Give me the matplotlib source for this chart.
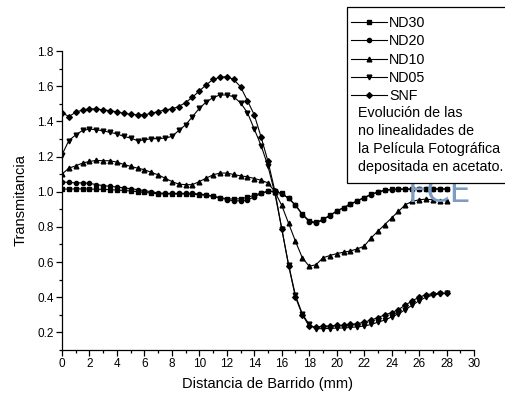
import numpy as np
import matplotlib
matplotlib.use("Agg")
import matplotlib.pyplot as plt
from matplotlib.lines import Line2D
from matplotlib.patches import Rectangle
from matplotlib.ticker import MultipleLocator

plt.rcParams['font.family'] = ['Liberation Sans', 'DejaVu Sans']

# scan positions (mm), one sample every 0.5 mm
distancia = np.arange(0, 28.5, 0.5)

nd30 = [1.015, 1.015, 1.016, 1.016, 1.015, 1.014, 1.013, 1.012, 1.009, 1.007,
        1.004, 1.000, 0.996, 0.992, 0.988, 0.987, 0.987, 0.987, 0.987, 0.986,
        0.983, 0.979, 0.973, 0.966, 0.960, 0.958, 0.960, 0.968, 0.980, 0.993,
        1.002, 1.002, 0.990, 0.963, 0.925, 0.872, 0.835, 0.825, 0.843, 0.866,
        0.890, 0.910, 0.930, 0.949, 0.967, 0.985, 0.999, 1.009, 1.013, 1.015,
        1.015, 1.015, 1.015, 1.015, 1.015, 1.015, 1.015]

nd20 = [1.055, 1.053, 1.050, 1.050, 1.048, 1.040, 1.035, 1.030, 1.027, 1.022,
        1.017, 1.012, 1.006, 1.000, 0.993, 0.990, 0.990, 0.990, 0.990, 0.990,
        0.987, 0.982, 0.975, 0.965, 0.955, 0.948, 0.948, 0.953, 0.970, 0.990,
        1.003, 1.000, 0.988, 0.962, 0.922, 0.870, 0.830, 0.820, 0.840, 0.863,
        0.888, 0.908, 0.928, 0.947, 0.965, 0.983, 0.997, 1.007, 1.012, 1.014,
        1.015, 1.015, 1.016, 1.016, 1.016, 1.016, 1.016]

nd10 = [1.100, 1.134, 1.147, 1.163, 1.172, 1.178, 1.176, 1.176, 1.168, 1.155,
        1.144, 1.134, 1.125, 1.110, 1.096, 1.077, 1.058, 1.043, 1.040, 1.040,
        1.058, 1.077, 1.096, 1.106, 1.106, 1.098, 1.090, 1.085, 1.075, 1.065,
        1.050, 1.000, 0.922, 0.820, 0.718, 0.624, 0.576, 0.585, 0.624, 0.637,
        0.648, 0.656, 0.663, 0.675, 0.690, 0.737, 0.775, 0.813, 0.851, 0.888,
        0.926, 0.945, 0.954, 0.958, 0.954, 0.950, 0.950]

nd05 = [1.210, 1.291, 1.323, 1.348, 1.356, 1.352, 1.346, 1.337, 1.329, 1.314,
        1.305, 1.290, 1.295, 1.301, 1.302, 1.305, 1.314, 1.348, 1.380, 1.427,
        1.474, 1.510, 1.535, 1.550, 1.550, 1.540, 1.505, 1.450, 1.356, 1.262,
        1.145, 0.990, 0.790, 0.585, 0.410, 0.305, 0.245, 0.220, 0.222, 0.222,
        0.225, 0.225, 0.228, 0.232, 0.236, 0.245, 0.258, 0.270, 0.288, 0.305,
        0.330, 0.355, 0.380, 0.400, 0.412, 0.420, 0.424]

snf = [1.450, 1.427, 1.452, 1.465, 1.471, 1.471, 1.465, 1.461, 1.454, 1.446,
       1.440, 1.437, 1.437, 1.446, 1.456, 1.465, 1.471, 1.484, 1.507, 1.537,
       1.573, 1.607, 1.639, 1.650, 1.655, 1.638, 1.597, 1.518, 1.437, 1.310,
       1.172, 1.005, 0.790, 0.580, 0.400, 0.300, 0.236, 0.230, 0.236, 0.236,
       0.240, 0.240, 0.245, 0.250, 0.258, 0.270, 0.284, 0.300, 0.312, 0.330,
       0.355, 0.380, 0.400, 0.414, 0.420, 0.422, 0.422]

series = [("ND30", nd30, "s", 2.8),
          ("ND20", nd20, "o", 3.0),
          ("ND10", nd10, "^", 3.4),
          ("ND05", nd05, "v", 3.4),
          ("SNF", snf, "D", 2.9)]

nota = ["Evolución de las", "no linealidades de",
        "la Película Fotográfica", "depositada en acetato."]

W, H = 505, 400
fig = plt.figure(figsize=(W / 100, H / 100), dpi=100)
ax = fig.add_axes([62 / W, 1 - 350 / H, (474 - 62) / W, (350 - 51) / H])

# faint logo behind the legend box
fig.text(440 / W, 1 - 192 / H, "FCE", ha='center', va='center', fontsize=24,
         color='#7d9cc2', family='DejaVu Sans', zorder=0)

for name, vals, mk, ms in series:
    ax.plot(distancia, vals, color='black', lw=0.8, marker=mk, ms=ms,
            mec='black', mfc='black', label=name)

ax.set_xlim(0, 30)
ax.set_ylim(0.1, 1.8)
ax.xaxis.set_major_locator(MultipleLocator(2))
ax.xaxis.set_minor_locator(MultipleLocator(1))
ax.yaxis.set_minor_locator(MultipleLocator(0.1))
ax.set_yticks(np.arange(0.2, 1.81, 0.2))
ax.set_yticklabels([f"{v:.1f}" for v in np.arange(0.2, 1.81, 0.2)])
ax.tick_params(which='major', direction='out', length=4, width=0.9, labelsize=8.5, pad=2)
ax.tick_params(which='minor', direction='out', length=2.5, width=0.9)
for s in ('top', 'right'):
    ax.spines[s].set_visible(False)
for s in ('left', 'bottom'):
    ax.spines[s].set_linewidth(0.9)
ax.patch.set_alpha(0)

ax.set_xlabel("Distancia de Barrido (mm)", fontsize=10.5, labelpad=5)
ax.set_ylabel("Transmitancia", fontsize=10.5, labelpad=7)

# legend box with the note underneath
box = Rectangle((347 / W, 1 - 183 / H), 0.5, 176 / H, transform=fig.transFigure,
                facecolor='white', edgecolor='black', lw=0.9, zorder=5)
fig.add_artist(box)

handles = [Line2D([], [], color='black', lw=0.8, marker=mk, ms=ms)
           for _, _, mk, ms in series]
leg = fig.legend(handles, [s[0] for s in series], loc='upper left',
                 bbox_to_anchor=(351 / W, 1 - 16 / H), frameon=False,
                 fontsize=10.3, handlelength=2.5, handletextpad=0.15,
                 labelspacing=0.3, borderpad=0, borderaxespad=0)
leg.set_zorder(6)

for i, line in enumerate(nota):
    fig.text(358 / W, 1 - (113 + 18 * i) / H, line, fontsize=10.3,
             ha='left', va='center', zorder=6)

fig.savefig("out.png", dpi=100)
